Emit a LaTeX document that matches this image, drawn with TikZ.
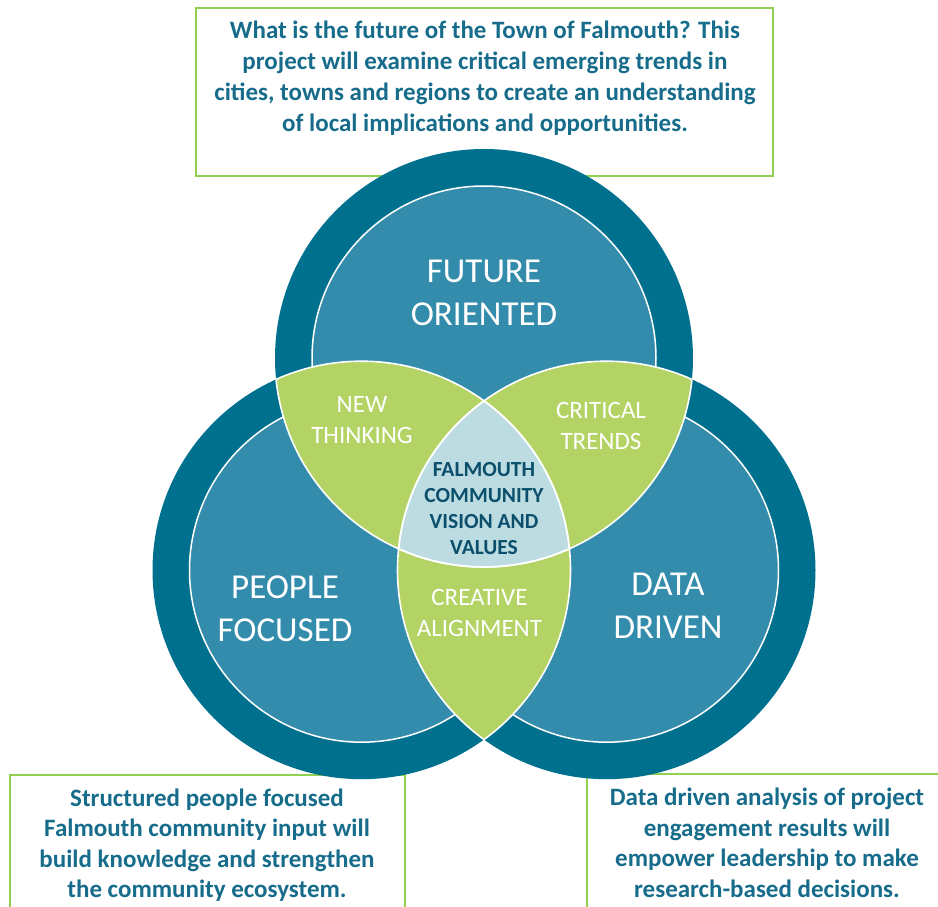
\documentclass[tikz,border=0pt]{standalone}
\usepackage{fontspec}
\setmainfont{Carlito}
\definecolor{ringdark}{RGB}{0,112,143}
\definecolor{ringlight}{RGB}{51,140,172}
\definecolor{lensgreen}{RGB}{179,212,101}
\definecolor{corelight}{RGB}{188,220,226}
\definecolor{corenavy}{RGB}{11,79,108}
\definecolor{boxtext}{RGB}{22,108,138}
\definecolor{boxgreen}{RGB}{146,208,80}

\begin{document}
\begin{tikzpicture}[x=1pt,y=1pt,
  boxline/.style={draw=boxgreen,line width=1.6pt},
  boxnote/.style={text=boxtext,align=center,inner sep=0pt,font=\bfseries\fontsize{25}{30.5}\selectfont},
  outerring/.style={fill=ringdark},
  innerdisk/.style={fill=ringlight,draw=white,line width=1.5pt},
  lensedge/.style={draw=white,line width=1.6pt},
  biglabel/.style={text=white,align=center,inner sep=0pt,font=\fontsize{35}{43}\selectfont},
  lenslabel/.style={text=white,align=center,inner sep=0pt,font=\fontsize{25}{31}\selectfont},
  corelabel/.style={text=corenavy,align=center,inner sep=0pt,font=\bfseries\fontsize{21.5}{26}\selectfont}]
\useasboundingbox (0,0) rectangle (938,-907);

\draw[boxline] (196,-8) rectangle (773,-176);
\node[boxnote,font=\bfseries\fontsize{25}{31}\selectfont] (question) at (485,-78)
  {What is the future of the Town of Falmouth? This\\project will examine critical emerging trends in\\cities, towns and regions to create an understanding\\of local implications and opportunities.};
\draw[boxline] (10,-907) -- (10,-775) -- (405,-775) -- (405,-907);
\node[boxnote] (peoplenote) at (207,-845)
  {Structured people focused\\Falmouth community input will\\build knowledge and strengthen\\the community ecosystem.};
\draw[boxline] (587,-907) -- (587,-774) -- (940,-774);
\node[boxnote] (datanote) at (767,-843)
  {Data driven analysis of project\\engagement results will\\empower leadership to make\\research-based decisions.};

\coordinate (top) at (484,-358);
\coordinate (left) at (361.5,-570.2);
\coordinate (right) at (606.5,-570.2);

\fill[outerring] (top) circle (209);
\filldraw[innerdisk] (top) circle (172);
\fill[outerring] (left) circle (209);
\filldraw[innerdisk] (left) circle (172);
\fill[outerring] (right) circle (209);
\filldraw[innerdisk] (right) circle (172);

\begin{scope}
  \clip (top) circle (209);
  \fill[lensgreen] (left) circle (209);
  \fill[lensgreen] (right) circle (209);
\end{scope}
\begin{scope}
  \clip (left) circle (209);
  \fill[lensgreen] (right) circle (209);
\end{scope}
\begin{scope}
  \clip (top) circle (209);
  \clip (left) circle (209);
  \fill[corelight] (right) circle (209);
\end{scope}
\begin{scope}
  \clip (top) circle (209);
  \draw[lensedge] (left) circle (209);
  \draw[lensedge] (right) circle (209);
\end{scope}
\begin{scope}
  \clip (left) circle (209);
  \draw[lensedge] (top) circle (209);
  \draw[lensedge] (right) circle (209);
\end{scope}
\begin{scope}
  \clip (right) circle (209);
  \draw[lensedge] (top) circle (209);
  \draw[lensedge] (left) circle (209);
\end{scope}

\node[biglabel] (future) at (484,-292.5) {FUTURE\\ORIENTED};
\node[biglabel] (people) at (285,-608.5) {PEOPLE\\FOCUSED};
\node[biglabel] (data) at (668,-606) {DATA\\DRIVEN};
\node[lenslabel] (newthink) at (362,-420.5) {NEW\\THINKING};
\node[lenslabel] (critical) at (601,-425.5) {CRITICAL\\TRENDS};
\node[lenslabel] (creative) at (479.5,-613) {CREATIVE\\ALIGNMENT};
\node[corelabel] (vision) at (484,-509) {FALMOUTH\\COMMUNITY\\VISION AND\\VALUES};
\end{tikzpicture}
\end{document}
